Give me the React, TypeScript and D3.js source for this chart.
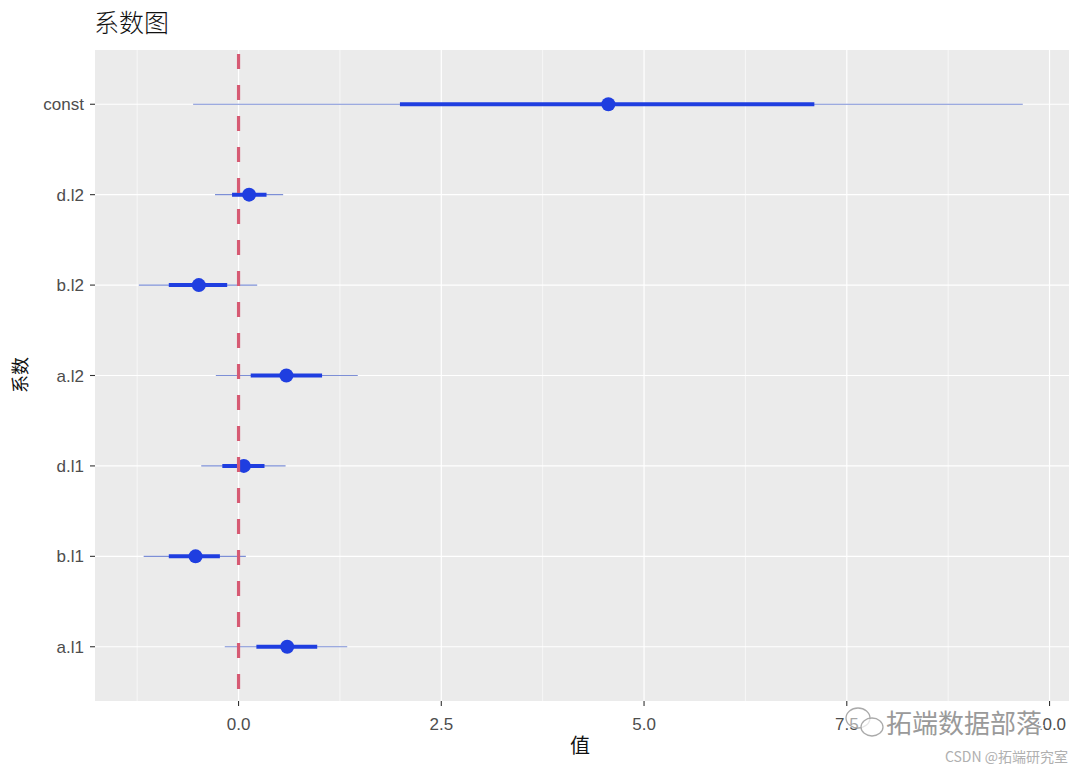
import React from "react";
import * as d3 from "d3";

const categories = ["const", "d.l2", "b.l2", "a.l2", "d.l1", "b.l1", "a.l1"];
const estimates = [4.56, 0.13, -0.49, 0.59, 0.065, -0.53, 0.6];
const innerLow = [1.99, -0.08, -0.86, 0.15, -0.2, -0.86, 0.22];
const innerHigh = [7.1, 0.345, -0.14, 1.03, 0.32, -0.23, 0.97];
const outerLow = [-0.56, -0.29, -1.23, -0.28, -0.46, -1.17, -0.17];
const outerHigh = [9.67, 0.55, 0.23, 1.47, 0.58, 0.09, 1.34];
const xTicks = [0, 2.5, 5, 7.5, 10];
const xMinor = [-1.25, 1.25, 3.75, 6.25, 8.75];
const tickLabels = ["0.0", "2.5", "5.0", "7.5", "10.0"];

export default function App() {
  const W = 1080, H = 771;
  const left = 95, right = 1069, top = 50, bottom = 701;
  const x = d3.scaleLinear().domain([-1.77, 10.24]).range([left, right]);
  const y = d3
    .scalePoint<string>()
    .domain(categories)
    .range([top, bottom])
    .padding(0.6);
  const font = "'Liberation Sans', Arial, sans-serif";
  const cjk = "'Noto Sans CJK SC', sans-serif";
  const blue = "#1f3ee0";
  return (
    <svg
      width={W}
      height={H}
      style={{ position: "absolute", left: 0, top: 0, background: "#fff" }}
    >
      <text x={94} y={32} fontFamily={cjk} fontSize={25} fontWeight={300} fill="#111">
        系数图
      </text>
      <rect x={left} y={top} width={right - left} height={bottom - top} fill="#EBEBEB" />
      {xMinor.map((v) => (
        <line key={"mn" + v} x1={x(v)} x2={x(v)} y1={top} y2={bottom} stroke="#fff" strokeWidth={0.6} />
      ))}
      {xTicks.map((v) => (
        <line key={"mj" + v} x1={x(v)} x2={x(v)} y1={top} y2={bottom} stroke="#fff" strokeWidth={1.2} />
      ))}
      {categories.map((c) => (
        <line key={"gy" + c} x1={left} x2={right} y1={y(c)} y2={y(c)} stroke="#fff" strokeWidth={1.2} />
      ))}
      {categories.map((c, i) => (
        <g key={"m" + c}>
          <line x1={x(outerLow[i])} x2={x(outerHigh[i])} y1={y(c)} y2={y(c)} stroke="#7d8fd6" strokeWidth={1.1} />
          <line x1={x(innerLow[i])} x2={x(innerHigh[i])} y1={y(c)} y2={y(c)} stroke={blue} strokeWidth={4} />
          <circle cx={x(estimates[i])} cy={y(c)} r={7} fill={blue} />
        </g>
      ))}
      <line
        x1={x(0)}
        x2={x(0)}
        y1={top}
        y2={bottom}
        stroke="#d65a73"
        strokeWidth={3.2}
        strokeDasharray="15 16"
        strokeDashoffset={-4}
      />
      {categories.map((c) => (
        <g key={"yt" + c}>
          <line x1={left - 5} x2={left} y1={y(c)} y2={y(c)} stroke="#333" strokeWidth={1.1} />
          <text x={left - 11} y={(y(c) as number) + 6} textAnchor="end" fontFamily={font} fontSize={17} fill="#4d4d4d">
            {c}
          </text>
        </g>
      ))}
      {xTicks.map((v, i) => (
        <g key={"xt" + v}>
          <line x1={x(v)} x2={x(v)} y1={bottom} y2={bottom + 5} stroke="#333" strokeWidth={1.1} />
          <text x={x(v)} y={bottom + 29} textAnchor="middle" fontFamily={font} fontSize={17} fill="#4d4d4d">
            {tickLabels[i]}
          </text>
        </g>
      ))}
      <text x={580} y={753} textAnchor="middle" fontFamily={cjk} fontSize={20} fill="#111">
        值
      </text>
      <text
        transform={`translate(27,375) rotate(-90)`}
        textAnchor="middle"
        fontFamily={cjk}
        fontSize={18}
        fill="#111"
      >
        系数
      </text>
      {/* watermark */}
      <g>
        <ellipse cx={858} cy={718} rx={12} ry={10} fill="#fff" fillOpacity={0.5} stroke="#aaa" strokeWidth={1.3} />
        <ellipse cx={872} cy={727} rx={11} ry={9} fill="#fff" fillOpacity={0.7} stroke="#aaa" strokeWidth={1.3} />
        <text
          x={886}
          y={733}
          fontFamily={cjk}
          fontSize={26}
          fill="#9a9a9a"
          stroke="#fff"
          strokeWidth={3}
          paintOrder="stroke"
        >
          拓端数据部落
        </text>
      </g>
      <text x={1068} y={762} textAnchor="end" fontFamily={cjk} fontSize={14} fill="#b0b0b0">
        CSDN @拓端研究室
      </text>
    </svg>
  );
}
